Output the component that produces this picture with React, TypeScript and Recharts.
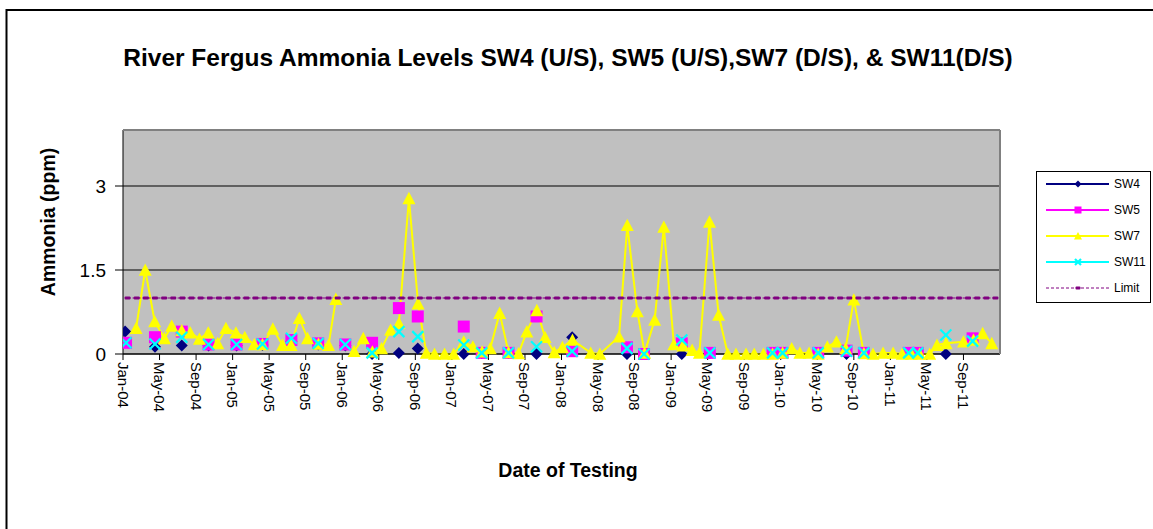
import React from 'react';
import { LineChart, Line, XAxis, YAxis, CartesianGrid } from 'recharts';

const FONT = '"Liberation Sans", Arial, Helvetica, sans-serif';

// x-axis labels, one every 4 months from Jan-04
const tickLabels = ['Jan-04', 'May-04', 'Sep-04', 'Jan-05', 'May-05', 'Sep-05', 'Jan-06', 'May-06', 'Sep-06', 'Jan-07', 'May-07', 'Sep-07',
    'Jan-08', 'May-08', 'Sep-08', 'Jan-09', 'May-09', 'Sep-09', 'Jan-10', 'May-10', 'Sep-10', 'Jan-11', 'May-11', 'Sep-11'];
const yTicks = [0, 1.5, 3];

// SW7 (D/S) - sampled roughly monthly, null = missing sample (line breaks)
const sw7Dates = ['2004-02-14', '2004-03-14', '2004-04-15', '2004-05-17', '2004-06-11', '2004-07-14', '2004-08-12', '2004-09-12', '2004-10-11', '2004-11-12', '2004-12-09',
    '2005-01-12', '2005-02-11', '2005-03-12', '2005-04-09', '2005-05-13', '2005-06-15', '2005-07-13', '2005-08-10', '2005-09-07', '2005-10-13', '2005-11-16', '2005-12-10',
    '2006-01-11', '2006-02-10', '2006-03-10', '2006-04-10', '2006-05-10', '2006-06-10', '2006-07-07', '2006-08-10', '2006-09-10', '2006-10-07', '2006-11-04', '2006-12-07',
    '2007-01-07', '2007-02-10', '2007-03-10', '2007-04-10', '2007-05-07', '2007-06-08', '2007-07-07', '2007-08-10', '2007-09-07', '2007-10-10', '2007-11-07', '2007-12-07',
    '2008-01-04', '2008-02-07', '2008-04-07', '2008-05-07', '2008-07-10', '2008-08-07', '2008-09-10', '2008-10-04', '2008-11-07', '2008-12-07',
    '2009-01-10', '2009-02-10', '2009-03-10', '2009-04-04', '2009-05-07', '2009-06-07', '2009-07-07', '2009-08-04', '2009-09-07', '2009-10-04', '2009-11-04', '2009-12-04',
    '2010-01-07', '2010-02-07', '2010-03-04', '2010-04-04', '2010-05-04', '2010-06-04', '2010-07-04', '2010-08-04', '2010-09-01', '2010-10-04', '2010-11-04', '2010-12-07',
    '2011-01-10', '2011-02-10', '2011-03-10', '2011-04-07', '2011-05-10', '2011-06-04', '2011-07-04', '2011-09-01', '2011-10-04', '2011-11-04', '2011-12-04'];
const sw7Values = [0.46, 1.5, 0.58, 0.28, 0.5, 0.42, 0.38, 0.27, 0.38, 0.19, 0.46,
    0.38, 0.3, 0.17, 0.17, 0.45, 0.16, 0.16, 0.64, 0.28, 0.18, 0.16, 0.98,
    null, 0.05, 0.28, 0.04, 0.1, 0.43, 0.55, 2.78, 0.9, 0.02, 0, 0,
    0, 0.22, 0.13, 0.04, 0.1, 0.73, 0.03, 0.01, 0.4, 0.78, 0.3, 0.03,
    0.12, 0.25, 0.02, 0, 0.31, 2.3, 0.76, 0.02, 0.61, 2.27,
    0.17, 0.15, 0.07, 0.02, 2.36, 0.7, 0, 0, 0, 0, 0, 0,
    0.02, 0.1, 0.02, 0.02, 0, 0.13, 0.22, 0.1, 0.97, 0.01, 0, 0.02,
    0.02, 0, 0, 0, 0, 0.16, 0.19, 0.22, 0.25, 0.37, 0.19];

// SW5 (U/S) - quarterly-ish samples
const sw5Dates = ['2004-01-11', '2004-04-16', '2004-07-14', '2004-10-12', '2005-01-14', '2005-04-09', '2005-07-14', '2005-10-12', '2006-01-11', '2006-04-09',
    '2006-07-07', '2006-09-09', '2007-02-10', '2007-04-09', '2007-07-07', '2007-10-09', '2008-02-06', '2008-08-06', '2008-10-02', '2009-02-06',
    '2009-05-08', '2009-12-04', '2010-01-07', '2010-05-04', '2010-08-07', '2010-10-04', '2011-03-01', '2011-04-01', '2011-10-01'];
const sw5Values = [0.2, 0.3, 0.4, 0.17, 0.17, 0.18, 0.25, 0.19, 0.17, 0.2,
    0.82, 0.67, 0.49, 0.02, 0.02, 0.67, 0.05, 0.12, 0, 0.19,
    0.02, 0.02, 0.02, 0.02, 0.06, 0.02, 0.02, 0.02, 0.28];

// SW11 (D/S)
const sw11Dates = ['2004-01-11', '2004-04-16', '2004-07-14', '2004-10-12', '2005-01-14', '2005-04-09', '2005-07-14', '2005-10-12', '2006-01-11', '2006-04-09',
    '2006-07-07', '2006-09-09', '2007-02-10', '2007-04-09', '2007-07-07', '2007-10-09', '2008-02-06', '2008-08-06', '2008-10-02', '2009-02-06',
    '2009-05-08', '2009-12-04', '2010-01-07', '2010-05-04', '2010-08-07', '2010-10-04', '2011-03-01', '2011-04-01', '2011-07-03', '2011-10-01'];
const sw11Values = [0.2, 0.18, 0.3, 0.17, 0.17, 0.18, 0.28, 0.19, 0.17, 0.02,
    0.4, 0.31, 0.16, 0.02, 0.02, 0.13, 0.05, 0.1, 0, 0.25,
    0.02, 0.02, 0.02, 0.02, 0.05, 0.02, 0.02, 0.02, 0.34, 0.23];

// SW4 (U/S)
const sw4Dates = ['2004-01-08', '2004-04-16', '2004-07-14', '2004-10-12', '2005-01-14', '2005-04-09', '2005-07-14', '2005-10-12', '2006-01-11', '2006-04-09',
    '2006-07-07', '2006-09-09', '2007-02-10', '2007-04-09', '2007-07-07', '2007-10-09', '2008-02-06', '2008-08-06', '2008-10-02', '2009-02-06',
    '2009-05-08', '2010-08-07', '2011-07-03'];
const sw4Values = [0.4, 0.13, 0.15, 0.15, 0.15, 0.16, 0.22, 0.17, 0.15, 0,
    0.02, 0.1, 0, 0.02, 0.02, 0, 0.3, 0, 0, 0,
    0.02, 0, 0];

const limitValue = 1; // ppm
const monthsShown = 96; // Jan-04 .. Dec-11

// months since Jan 2004
const monthPos = (d: string) => {
    const [y, m, day] = d.split('-').map(Number);
    return (y - 2004) * 12 + (m - 1) + (day - 1) / 30;
};

// build points, breaking the line where samples are far apart
const buildSeries = (dates: string[], values: (number | null)[], maxGap?: number) => {
    const out: { x: number; v: number | null }[] = [];
    dates.forEach((d, i) => {
        const x = monthPos(d);
        const prev = out[out.length - 1];
        if (maxGap && prev && x - prev.x > maxGap) out.push({ x: (x + prev.x) / 2, v: null });
        out.push({ x, v: values[i] });
    });
    return out;
};

const sw4Data = buildSeries(sw4Dates, sw4Values, 1.3);
const sw5Data = buildSeries(sw5Dates, sw5Values, 1.3);
const sw7Data = buildSeries(sw7Dates, sw7Values);
const sw11Data = buildSeries(sw11Dates, sw11Values, 1.3);
const limitData = Array.from({ length: monthsShown }, (_, m) => ({ x: m + 0.5, v: limitValue }));

const NAVY = '#000080';
const MAGENTA = '#FF00FF';
const YELLOW = '#FFFF00';
const CYAN = '#00FFFF';
const PURPLE = '#800080';

// marker shapes (Excel style)
const Diamond = ({ cx, cy, r }: any) => <polygon points={`${cx},${cy - r} ${cx + r},${cy} ${cx},${cy + r} ${cx - r},${cy}`} fill={NAVY} />;
const Square = ({ cx, cy, r }: any) => <rect x={cx - r} y={cy - r} width={r * 2} height={r * 2} fill={MAGENTA} />;
const Triangle = ({ cx, cy, r }: any) => <polygon points={`${cx},${cy - r} ${cx + r},${cy + r * 0.9} ${cx - r},${cy + r * 0.9}`} fill={YELLOW} />;
const Cross = ({ cx, cy, r }: any) => (
    <g stroke={CYAN} strokeWidth={2.2}>
        <line x1={cx - r} y1={cy - r} x2={cx + r} y2={cy + r} />
        <line x1={cx - r} y1={cy + r} x2={cx + r} y2={cy - r} />
    </g>
);
const Dash = ({ cx, cy, r }: any) => <rect x={cx - r} y={cy - 1.5} width={r * 2} height={3} rx={1} fill={PURPLE} />;

const makeDot = (Shape: any, r: number) => (props: any) => {
    const { cx, cy, value, index } = props;
    if (value == null || cx == null || cy == null) return <g key={`e-${index}`} />;
    return <g key={`d-${index}`}><Shape cx={cx} cy={cy} r={r} /></g>;
};

const XTick = ({ x, y, payload }: any) => (
    <text x={x} y={y} transform={`rotate(90 ${x} ${y})`} textAnchor="start" dominantBaseline="central"
        fontSize={15} fontFamily={FONT} fill="#000">
        {tickLabels[Math.round(payload.value / 4)]}
    </text>
);

const legendItems = [
    { name: 'SW4', color: NAVY, Shape: Diamond, r: 3.5, dashed: false },
    { name: 'SW5', color: MAGENTA, Shape: Square, r: 3.5, dashed: false },
    { name: 'SW7', color: YELLOW, Shape: Triangle, r: 4, dashed: false },
    { name: 'SW11', color: CYAN, Shape: Cross, r: 3, dashed: false },
    { name: 'Limit', color: PURPLE, Shape: Dash, r: 2.5, dashed: true },
];

const App: React.FC = () => {
    return (
        <div style={{ position: 'absolute', left: 0, top: 0, width: 1153, height: 529, background: '#fff', overflow: 'hidden' }}>
            <LineChart width={1153} height={529} data={limitData} margin={{ top: 130, right: 153, bottom: 115, left: 0 }}>
                <CartesianGrid horizontal={true} vertical={false} stroke="#000" strokeWidth={1} fill="#C0C0C0" fillOpacity={1} />
                <XAxis dataKey="x" type="number" domain={[0, monthsShown]} ticks={tickLabels.map((_, i) => i * 4)} interval={0}
                    height={60} stroke="#000" tickSize={6} tickMargin={2} tick={<XTick />} allowDataOverflow />
                <YAxis type="number" domain={[0, 4]} ticks={yTicks} width={123} stroke="#000" tickSize={8} tickMargin={9}
                    tick={{ fill: '#000', fontSize: 19, fontFamily: FONT }} />
                <Line data={sw4Data} dataKey="v" stroke={NAVY} strokeWidth={2} dot={makeDot(Diamond, 6)} activeDot={false} isAnimationActive={false} />
                <Line data={sw5Data} dataKey="v" stroke={MAGENTA} strokeWidth={2} dot={makeDot(Square, 6)} activeDot={false} isAnimationActive={false} />
                <Line data={sw7Data} dataKey="v" stroke={YELLOW} strokeWidth={2} dot={makeDot(Triangle, 6.5)} activeDot={false} isAnimationActive={false} />
                <Line data={sw11Data} dataKey="v" stroke={CYAN} strokeWidth={2} dot={makeDot(Cross, 5.5)} activeDot={false} isAnimationActive={false} />
                <Line data={limitData} dataKey="v" stroke={PURPLE} strokeWidth={1} strokeDasharray="3 2" dot={makeDot(Dash, 3)} activeDot={false} isAnimationActive={false} />
            </LineChart>
            <svg width={1153} height={529} style={{ position: 'absolute', left: 0, top: 0, pointerEvents: 'none' }}>
                {/* outer chart border */}
                <rect x={6.5} y={10} width={1150} height={540} fill="none" stroke="#000" strokeWidth={2} />
                {/* plot area border (top / right) */}
                <line x1={123} y1={130} x2={1000} y2={130} stroke="#808080" strokeWidth={2} />
                <line x1={1000} y1={130} x2={1000} y2={354} stroke="#808080" strokeWidth={2} />
                <text x={568} y={66} textAnchor="middle" fontSize={24.5} fontWeight="bold" fontFamily={FONT} fill="#000">
                    River Fergus Ammonia Levels SW4 (U/S), SW5 (U/S),SW7 (D/S), &amp; SW11(D/S)
                </text>
                <text x={568} y={477} textAnchor="middle" fontSize={19.5} fontWeight="bold" fontFamily={FONT} fill="#000">Date of Testing</text>
                <text x={55} y={222} transform="rotate(-90 55 222)" textAnchor="middle" fontSize={19.5} fontWeight="bold" fontFamily={FONT} fill="#000">Ammonia (ppm)</text>
                {/* legend */}
                <rect x={1036.5} y={171.5} width={114} height={131} fill="#fff" stroke="#000" strokeWidth={1} />
                {legendItems.map((it, i) => {
                    const y = 184 + i * 26;
                    return (
                        <g key={it.name}>
                            <line x1={1046} y1={y} x2={1109} y2={y} stroke={it.color} strokeWidth={it.dashed ? 1 : 2} strokeDasharray={it.dashed ? '3 2' : undefined} />
                            <it.Shape cx={1078} cy={y} r={it.r} />
                            <text x={1114} y={y + 4} fontSize={12} fontFamily={FONT} fill="#000">{it.name}</text>
                        </g>
                    );
                })}
            </svg>
        </div>
    );
};

export default App;
